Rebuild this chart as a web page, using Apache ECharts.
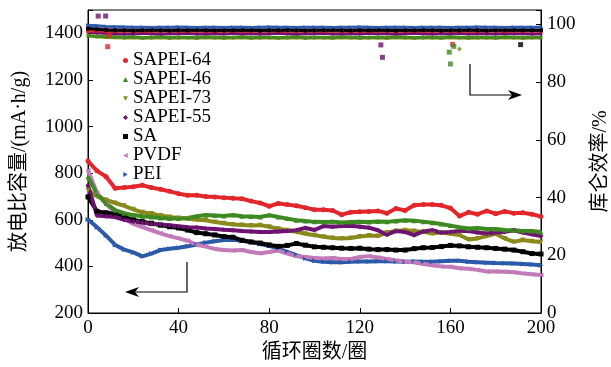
<!DOCTYPE html>
<html><head><meta charset="utf-8">
<script src="https://cdn.jsdelivr.net/npm/echarts@6/dist/echarts.min.js"></script>
<style>html,body{margin:0;padding:0;background:#fff}#c{width:611px;height:367px}</style>
</head><body><div id="c"></div>
<script>
// cycles sampled every 4 cycles
const cycles = [0,4,8,12,16,20,24,28,32,36,40,44,48,52,56,60,64,68,72,76,80,84,88,92,96,100,104,108,112,116,120,124,128,132,136,140,144,148,152,156,160,164,168,172,176,180,184,188,192,196,200];
const seriesNames = ['SAPEI-64','SAPEI-46','SAPEI-73','SAPEI-55','SA','PVDF','PEI'];
// discharge specific capacity (mA·h/g)
const capSAPEI64 = [852,810,785,735,738,742,748,738,731,722,712,705,705,700,698,695,692,690,680,672,658,670,665,660,652,643,643,640,622,632,634,636,638,628,648,640,662,665,665,662,650,616,632,624,638,626,636,628,630,624,614];
const capSAPEI46 = [784,710,670,641,628,620,615,612,608,605,605,608,615,620,618,616,620,615,614,612,620,612,605,598,595,591,590,592,588,590,592,590,593,591,595,598,596,592,587,582,575,568,563,565,560,560,556,555,552,552,548];
const capSAPEI73 = [727,700,685,672,660,645,632,627,618,612,608,605,600,598,590,585,580,578,575,577,570,562,555,548,540,534,527,522,520,522,528,532,530,545,552,555,552,548,541,545,540,535,515,520,530,540,520,505,513,508,505];
const capSAPEI55 = [748,618,615,612,600,592,588,582,580,577,572,568,567,563,560,557,555,552,550,548,548,550,552,555,565,556,573,570,573,574,570,566,555,536,552,548,534,550,555,545,548,552,552,545,541,545,548,555,545,538,530];
const capSA      = [698,636,630,625,612,600,592,585,577,570,565,556,545,540,535,528,525,512,505,500,492,486,490,498,491,484,482,480,478,477,478,474,472,472,470,470,476,480,481,485,490,488,484,482,480,477,474,470,463,455,453];
const capPVDF    = [812,715,668,630,605,582,568,555,542,530,520,510,493,485,475,470,468,470,462,456,462,468,455,444,440,436,434,436,432,432,440,444,438,432,425,420,418,410,405,400,398,392,390,385,378,378,377,375,370,366,363];
const capPEI     = [601,568,532,492,472,460,443,455,470,476,480,486,494,502,508,513,514,510,504,496,488,476,462,448,435,424,420,418,418,420,421,421,422,422,421,420,421,420,420,422,424,424,420,418,416,414,413,412,410,408,405];
// coulombic efficiency (%)
const ceSAPEI64 = [97.6,97.8,97.7,97.6,97.7,97.8,97.6,97.7,97.8,97.7,97.6,97.7,97.8,97.7,97.6,97.7,97.8,97.7,97.6,97.7,97.7,97.8,97.6,97.7,97.7,97.8,97.6,97.7,97.8,97.7,97.6,97.7,97.7,97.8,97.6,97.7,97.8,97.7,97.6,97.7,97.7,97.8,97.6,97.7,97.8,97.7,97.6,97.7,97.7,97.8,97.6];
const ceSAPEI46 = [96.2,95.9,95.8,95.7,95.6,95.7,95.5,95.6,95.7,95.5,95.6,95.6,95.5,95.7,95.6,95.5,95.6,95.7,95.5,95.6,95.6,95.5,95.6,95.7,95.5,95.6,95.6,95.5,95.7,95.6,95.5,95.6,95.6,95.5,95.7,95.6,95.5,95.6,95.6,95.5,95.7,95.6,95.5,95.6,95.6,95.5,95.7,95.6,95.5,95.6,95.6];
const ceSAPEI73 = [96.0,95.7,95.5,95.4,95.3,95.4,95.2,95.3,95.4,95.2,95.3,95.3,95.2,95.4,95.3,95.2,95.3,95.4,95.2,95.3,95.3,95.2,95.3,95.4,95.2,95.3,95.3,95.2,95.4,95.3,95.2,95.3,95.3,95.2,95.4,95.3,95.2,95.3,95.3,95.2,95.4,95.3,95.2,95.3,95.3,95.2,95.4,95.3,95.2,95.3,95.3];
const ceSAPEI55 = [97.4,97.0,96.9,96.8,96.7,96.8,96.9,96.8,96.7,96.8,96.8,96.9,96.7,96.8,96.8,96.7,96.9,96.8,96.8,96.7,96.8,96.9,96.8,96.7,96.8,96.8,96.9,96.7,96.8,96.8,96.7,96.9,96.8,96.8,96.7,96.8,96.9,96.8,96.7,96.8,96.8,96.9,96.7,96.8,96.8,96.7,96.9,96.8,96.8,96.7,96.8];
const ceSA      = [98.6,98.3,98.1,98.0,98.0,97.9,98.0,98.1,98.0,97.9,98.0,98.0,98.1,98.0,97.9,98.0,98.0,98.1,98.0,97.9,98.0,98.0,98.1,98.0,97.9,98.0,98.0,98.1,98.0,97.9,98.0,98.0,98.1,98.0,97.9,98.0,98.0,98.1,98.0,97.9,98.0,98.0,98.1,98.0,97.9,98.0,98.0,98.1,98.0,98.0,98.0];
const cePVDF    = [98.8,98.6,98.5,98.4,98.5,98.4,98.5,98.4,98.5,98.4,98.4,98.5,98.4,98.5,98.4,98.4,98.5,98.4,98.5,98.4,98.4,98.5,98.4,98.5,98.4,98.4,98.5,98.4,98.5,98.4,98.4,98.5,98.4,98.5,98.4,98.4,98.5,98.4,98.5,98.4,98.4,98.5,98.4,98.5,98.4,98.4,98.5,98.4,98.5,98.4,98.4];
const cePEI     = [99.7,99.5,99.3,99.2,99.1,99.0,99.0,98.9,99.0,99.0,99.1,99.0,98.9,99.0,99.0,98.9,99.0,99.0,98.9,99.0,99.1,99.0,99.0,98.9,99.0,99.0,99.0,98.9,99.0,99.0,99.1,99.0,98.9,99.0,99.0,99.0,98.9,99.0,99.0,99.0,98.9,99.0,99.0,99.1,99.0,99.0,98.9,99.0,99.0,99.0,99.0];
// isolated efficiency points [cycle, %]
const ceOutSAPEI64 = [[8.7,92.3],[9.3,96.3],[161,93.1]];
const ceOutSAPEI46 = [[159.5,90.4],[160,86.3],[161.5,92.4]];
const ceOutSAPEI73 = [[164,91.5]];
const ceOutSAPEI55 = [[4.5,102.9],[7.8,102.9],[129.3,92.9],[130,88.6]];
const ceOutSA = [[191,93.0]];
// axis ticks
const xTicks = {min:0, max:200, interval:40};
const yLeftTicks = {min:200, max:1500, interval:200};
const yRightTicks = {min:0, max:105, interval:20};

const colors = ['#e3262b','#3c8a21','#8a8a1c','#6e1272','#000000','#c27ab9','#2a5aa8'];
const icons = ['circle','triangle','path://M0,0 L10,0 L5,9 Z','diamond','rect','path://M9,0 L9,10 L0,5 Z','path://M0,0 L0,10 L9,5 Z'];
const caps = [capSAPEI64,capSAPEI46,capSAPEI73,capSAPEI55,capSA,capPVDF,capPEI];
const ces = [ceSAPEI64,ceSAPEI46,ceSAPEI73,ceSAPEI55,ceSA,cePVDF,cePEI];
const outs = [ceOutSAPEI64,ceOutSAPEI46,ceOutSAPEI73,ceOutSAPEI55,ceOutSA,null,null];
const FONT = '"Liberation Serif","Noto Sans CJK SC",serif';

const series = [];
[2,1,3,0,5,4,6].forEach(i=>{
  series.push({name:seriesNames[i], type:'line', yAxisIndex:1, data:cycles.map((c,k)=>[c,ces[i][k]]),
    symbol:icons[i], symbolSize:4, showSymbol:true, lineStyle:{width:3,color:colors[i]}, itemStyle:{color:colors[i]}, z:2, animation:false});
});
outs.forEach((o,i)=>{ if(o) series.push({name:seriesNames[i], type:'scatter', yAxisIndex:1, data:o,
  symbol: i===2?'diamond':'rect', symbolSize:5, itemStyle:{color:colors[i]}, z:3, animation:false}); });
[6,5,4,2,3,1,0].forEach(i=>{
  series.push({name:seriesNames[i], type:'line', yAxisIndex:0, data:cycles.map((c,k)=>[c,caps[i][k]]),
    symbol:icons[i], symbolSize:5, showSymbol:true, lineStyle:{width:4,color:colors[i]}, itemStyle:{color:colors[i]}, z:4, animation:false});
});

const chart = echarts.init(document.getElementById('c'));
chart.setOption({
  animation:false,
  textStyle:{fontFamily:FONT},
  grid:{left:88,right:70,top:10,bottom:54,show:true,borderColor:'#000',borderWidth:1,outerBoundsMode:'none',containLabel:false},
  legend:{orient:'vertical',left:118,top:46,itemGap:0,itemWidth:5,itemHeight:5,
    textStyle:{fontFamily:FONT,fontSize:19,color:'#000',lineHeight:19,padding:[0,0,0,0]},
    data:seriesNames.map((n,i)=>({name:n,icon:icons[i],itemStyle:{color:colors[i]}}))},
  xAxis:{type:'value',min:xTicks.min,max:xTicks.max,interval:xTicks.interval,
    name:'循环圈数/圈',nameLocation:'middle',nameGap:30,
    nameTextStyle:{fontFamily:FONT,fontSize:20,color:'#000'},
    axisLine:{lineStyle:{color:'#000'}},axisTick:{inside:true,length:5,lineStyle:{color:'#000'}},
    axisLabel:{fontFamily:FONT,fontSize:19,color:'#000',margin:6},splitLine:{show:false}},
  yAxis:[
    {type:'value',min:yLeftTicks.min,max:yLeftTicks.max,interval:yLeftTicks.interval,
     name:'放电比容量/(mA·h/g)',nameLocation:'middle',nameGap:58,nameRotate:90,
     nameTextStyle:{fontFamily:FONT,fontSize:20,color:'#000'},
     axisLine:{show:true,lineStyle:{color:'#000'}},axisTick:{inside:true,length:5,lineStyle:{color:'#000'}},
     axisLabel:{fontFamily:FONT,fontSize:19,color:'#000',margin:5,formatter:v=>v>1400?'':v},splitLine:{show:false}},
    {type:'value',min:yRightTicks.min,max:yRightTicks.max,interval:yRightTicks.interval,position:'right',
     name:'库仑效率/%',nameLocation:'middle',nameGap:50,nameRotate:90,
     nameTextStyle:{fontFamily:FONT,fontSize:20,color:'#000'},
     axisLine:{show:true,lineStyle:{color:'#000'}},axisTick:{inside:true,length:5,lineStyle:{color:'#000'}},
     axisLabel:{fontFamily:FONT,fontSize:19,color:'#000',margin:6,formatter:v=>v>100?'':v},splitLine:{show:false}}
  ],
  series:series,
  graphic:[
    {type:'polyline',shape:{points:[[187,262],[187,292],[133,292]]},style:{stroke:'#000',lineWidth:1.2,fill:null},z:10},
    {type:'polygon',shape:{points:[[125,292],[139,287],[135,292],[139,297]]},style:{fill:'#000'},z:10},
    {type:'polyline',shape:{points:[[470,64],[470,95],[514,95]]},style:{stroke:'#000',lineWidth:1.2,fill:null},z:10},
    {type:'polygon',shape:{points:[[522,95],[508,90],[512,95],[508,100]]},style:{fill:'#000'},z:10}
  ]
});
</script></body></html>
